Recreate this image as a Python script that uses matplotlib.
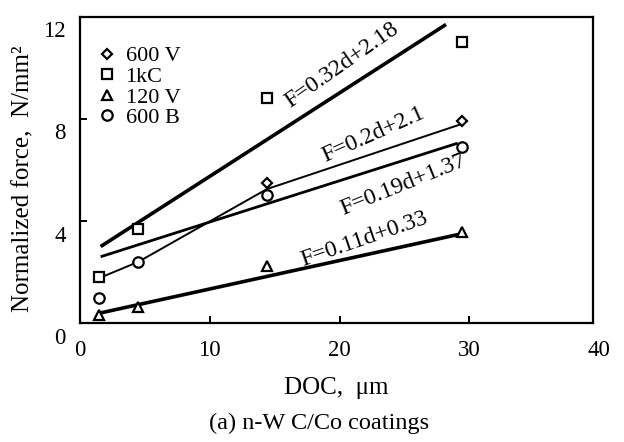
import matplotlib
matplotlib.use("Agg")
import matplotlib.pyplot as plt
import matplotlib.transforms as mtransforms

plt.rcParams['font.family'] = ['Liberation Serif', 'DejaVu Serif']

# measured points (DOC in um, normalized force in N/mm^2)
doc_600v = [14.4, 29.4]
f_600v = [5.5, 7.9]
doc_1kc = [1.5, 4.5, 14.4, 29.4]
f_1kc = [1.8, 3.7, 8.8, 11.0]
doc_120v = [1.5, 4.5, 14.4, 29.4]
f_120v = [0.3, 0.65, 2.25, 3.55]
doc_600b = [1.5, 4.5, 14.4, 29.4]
f_600b = [1.0, 2.4, 5.0, 6.9]

# fitted lines as drawn
fit_1kc_x = [1.6, 28.2]
fit_1kc_y = [3.0, 11.7]
fit_600v_x = [1.9, 4.5, 14.4, 29.4]
fit_600v_y = [1.85, 2.4, 5.25, 7.8]
fit_600b_x = [1.6, 29.1]
fit_600b_y = [2.6, 7.05]
fit_120v_x = [1.6, 29.4]
fit_120v_y = [0.4, 3.5]

eq_labels = ['F=0.32d+2.18', 'F=0.2d+2.1', 'F=0.19d+1.37', 'F=0.11d+0.33']
eq_x = [20.2, 22.6, 24.9, 21.9]
eq_y = [10.1, 7.4, 5.4, 3.3]
eq_rot = [35, 24, 22, 19]

fig = plt.figure(figsize=(6.24, 4.42), dpi=100)
ax = fig.add_axes([0.128, 0.269, 0.822, 0.693])

ax.plot(fit_1kc_x, fit_1kc_y, color='black', lw=2.6, solid_capstyle='butt')
ax.plot(fit_600v_x, fit_600v_y, color='black', lw=1.4)
ax.plot(fit_600b_x, fit_600b_y, color='black', lw=2.0, solid_capstyle='butt')
ax.plot(fit_120v_x, fit_120v_y, color='black', lw=2.6, solid_capstyle='butt')

mk = dict(linestyle='none', markerfacecolor='white', markeredgecolor='black', markeredgewidth=1.6)
ax.plot(doc_600v, f_600v, marker='D', markersize=5.5, label='600 V', **mk)
ax.plot(doc_1kc, f_1kc, marker='s', markersize=7, label='1kC', **mk)
ax.plot(doc_120v, f_120v, marker='^', markersize=7.5, label='120 V', **mk)
ax.plot(doc_600b, f_600b, marker='o', markersize=7.5, label='600 B', **mk)

for lab, x, y, r in zip(eq_labels, eq_x, eq_y, eq_rot):
    ax.text(x, y, lab, rotation=r, rotation_mode='anchor', ha='center', va='center', fontsize=17)

ax.legend(loc='upper left', bbox_to_anchor=(0.037, 0.905), frameon=False, fontsize=16,
          handlelength=0.7, handletextpad=0.5, labelspacing=0.0, borderpad=0, borderaxespad=0)

ax.set_xlim(0, 39.5)
ax.set_ylim(0, 12)
ax.set_xticks([0, 10, 20, 30])
ax.set_yticks([0, 4, 8, 12])
ax.tick_params(direction='in', length=5, width=1.4, labelsize=16.5, pad=12)
ax.tick_params(axis='y', pad=10)
ax.text(40, -0.055, '40', transform=mtransforms.blended_transform_factory(ax.transData, ax.transAxes),
        ha='center', va='top', fontsize=16.5)

# shift y tick labels down a bit like in the scan
shift = mtransforms.ScaledTranslation(0, -9 / 72, fig.dpi_scale_trans)
for lbl in ax.get_yticklabels():
    lbl.set_transform(lbl.get_transform() + shift)

for s in ax.spines.values():
    s.set_linewidth(1.6)

ax.set_ylabel('Normalized force,  N/mm²', fontsize=18)
ax.yaxis.set_label_coords(-0.088, 0.47)
ax.set_xlabel('DOC,  μm', fontsize=18, labelpad=12)
fig.text(0.512, 0.042, '(a) n-W C/Co coatings', ha='center', va='center', fontsize=17.5)

plt.savefig('out.png', dpi=100)
